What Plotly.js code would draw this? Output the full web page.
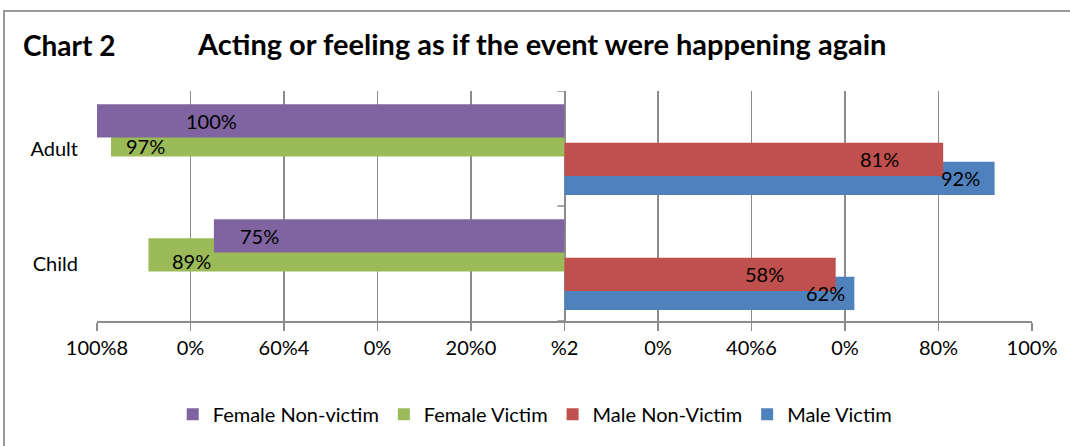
<!DOCTYPE html>
<html><head><meta charset="utf-8">
<script src="https://cdn.plot.ly/plotly-3.0.1.min.js"></script>
<style>
html,body{margin:0;padding:0;background:#fff;}
#chart{width:1070px;height:446px;}
#frame{position:absolute;left:3px;top:10px;width:2000px;height:2000px;border-left:2px solid #9a9a9a;border-top:2px solid #9a9a9a;pointer-events:none;}
</style>
</head><body><div id="chart"></div><div id="frame"></div>
<script>
// ---- data ----
const categories = ['Adult', 'Child'];
const femaleNonVictim = [100, 75];
const femaleVictim = [97, 89];
const maleNonVictim = [81, 58];
const maleVictim = [92, 62];
const tickValues = [-100, -80, -60, -40, -20, 0, 20, 40, 60, 80, 100];
const tickLabels = ['100%8', '0%', '60%4', '0%', '20%0', '%2', '0%', '40%6', '0%', '80%', '100%'];

// ---- styles ----
const FONT = 'Lato, Carlito, "Open Sans", sans-serif';
const GRID = '#8c8c8c';
const BAR_W = 0.29;
const series = [
  {name: 'Female Non-victim', vals: femaleNonVictim, sign: -1, color: '#8064A2', offset: -0.385, rank: 1, shift: [114, 46], yshift: 0},
  {name: 'Female Victim',     vals: femaleVictim,    sign: -1, color: '#9BBB59', offset: -0.22,  rank: 2, shift: [34, 43],  yshift: -6},
  {name: 'Male Non-Victim',   vals: maleNonVictim,   sign: 1,  color: '#C0504D', offset: -0.05,  rank: 3, shift: [-64, -71], yshift: 0},
  {name: 'Male Victim',       vals: maleVictim,      sign: 1,  color: '#4F81BD', offset: 0.115,  rank: 4, shift: [-34, -29], yshift: 0}
];
const drawOrder = [1, 0, 3, 2];
const yIdx = categories.map((c, i) => i);

const traces = drawOrder.map(k => {
  const s = series[k];
  return {
    type: 'bar', orientation: 'h', name: s.name,
    x: s.vals.map(v => s.sign * v), y: yIdx,
    offset: s.offset, width: BAR_W,
    marker: {color: s.color, line: {width: 0}},
    legendrank: s.rank, hoverinfo: 'skip'
  };
});

const annotations = [];
series.forEach(s => {
  s.vals.forEach((v, i) => {
    annotations.push({
      x: s.sign * v, y: i + s.offset + BAR_W / 2, xref: 'x', yref: 'y',
      text: v + '%', showarrow: false, xanchor: 'center', yanchor: 'middle',
      xshift: s.shift[i], yshift: s.yshift,
      font: {family: FONT, size: 20, color: '#000'}
    });
  });
});
annotations.push({
  text: 'Chart 2', xref: 'paper', yref: 'paper', x: -0.0813, y: 1.2009,
  xanchor: 'left', yanchor: 'middle', showarrow: false,
  font: {family: FONT, size: 28, color: '#000', weight: 'bold'}
});

const boundaries = [-0.5, 0.5, 1.5];
const shapes = boundaries.map(b => ({
  type: 'line', xref: 'x', yref: 'y', xsizemode: 'pixel', xanchor: 0,
  x0: -7, x1: 0, y0: b, y1: b, line: {color: GRID, width: 1.5}
}));

const layout = {
  width: 1070, height: 446,
  margin: {l: 97, r: 38, t: 91, b: 121},
  paper_bgcolor: '#fff', plot_bgcolor: '#fff',
  barmode: 'overlay',
  showlegend: true,
  title: {
    text: 'Acting or feeling as if the event were happening again',
    xref: 'container', yref: 'container', x: 198 / 1070, xanchor: 'left',
    y: 1 - 45 / 446, yanchor: 'middle',
    font: {family: FONT, size: 29, color: '#000', weight: 'bold'}
  },
  xaxis: {
    range: [-100, 100], tickvals: tickValues, ticktext: tickLabels,
    showgrid: true, gridcolor: GRID, gridwidth: 1.5,
    zeroline: true, zerolinecolor: GRID, zerolinewidth: 2,
    showline: true, linecolor: GRID, linewidth: 1.5,
    ticks: 'outside', ticklen: 8, tickcolor: GRID, tickwidth: 1.5,
    tickfont: {family: FONT, size: 20, color: '#000'}, fixedrange: true
  },
  yaxis: {
    range: [1.5, -0.5], tickvals: yIdx, ticktext: categories,
    showgrid: false, zeroline: false, showline: false, ticks: '',
    ticklabelstandoff: 18,
    tickfont: {family: FONT, size: 20, color: '#000'}, fixedrange: true
  },
  legend: {
    orientation: 'h', x: 0.081, xanchor: 'left', xref: 'paper',
    y: -0.405, yanchor: 'middle', traceorder: 'normal',
    font: {family: FONT, size: 20, color: '#000'}
  },
  annotations: annotations,
  shapes: shapes
};

Plotly.newPlot('chart', traces, layout, {displayModeBar: false, staticPlot: true});
</script>
</body></html>
